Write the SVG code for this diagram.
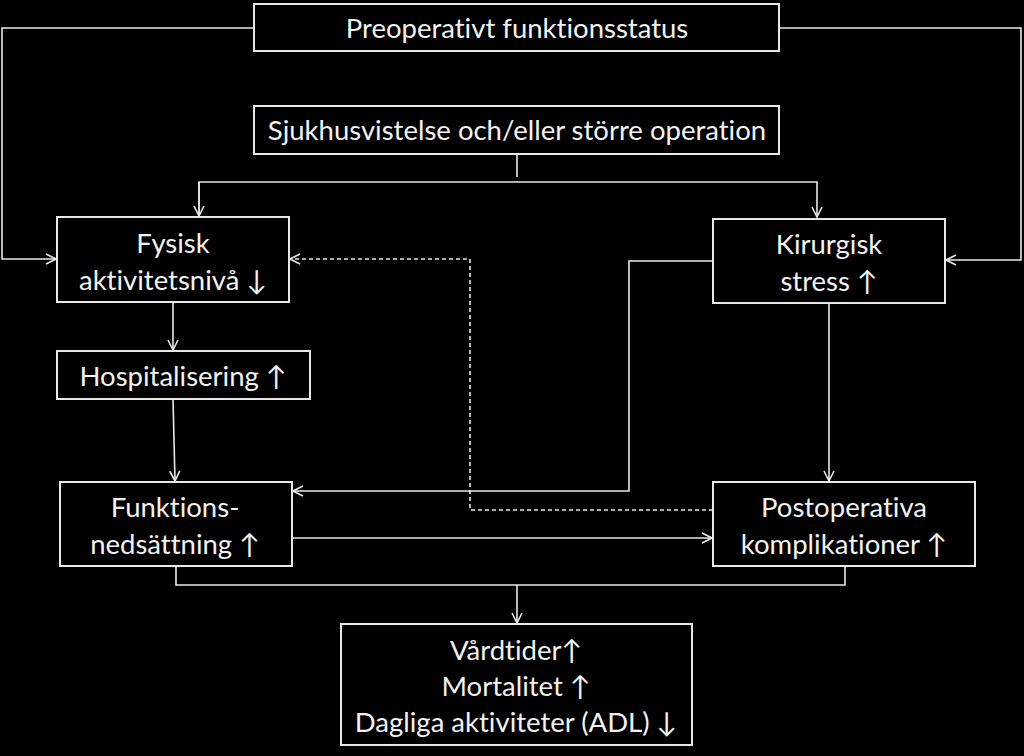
<svg xmlns="http://www.w3.org/2000/svg" width="1024" height="756" viewBox="0 0 1024 756">
<defs>
<style>
.box{fill:#000;stroke:#e8e8e8;stroke-width:2}
.t{font-family:Lato,"Open Sans",sans-serif;font-size:27.5px;fill:#f2f2f2;text-anchor:middle;font-variant-ligatures:none}
.c{fill:none;stroke:#e8e8e8;stroke-width:1.6}
.d{stroke-dasharray:4,3}
</style>
<marker id="ah" viewBox="0 0 12 12" refX="11" refY="6" markerWidth="12" markerHeight="12" markerUnits="userSpaceOnUse" orient="auto">
<path d="M1,1 L11,6 L1,11" fill="none" stroke="#e8e8e8" stroke-width="1.6"/>
</marker>
</defs>
<rect width="1024" height="756" fill="#000"/>
<g id="connectors">
<path class="c" d="M254,28 H2 V259 H56" marker-end="url(#ah)"/>
<path class="c" d="M779,28 H1021 V260 H946" marker-end="url(#ah)"/>
<path class="c" d="M517,154 V177"/>
<path class="c" d="M199,216 V182 H817 V217" marker-end="url(#ah)"/>
<path class="c" d="M199,182 V216" marker-end="url(#ah)"/>
<path class="c" d="M713,261 H629 V491 H293" marker-end="url(#ah)"/>
<path class="c d" d="M713,510 H470 V259 H290" marker-end="url(#ah)"/>
<path class="c" d="M173,302 V350" marker-end="url(#ah)"/>
<path class="c" d="M173,399 L175,481" marker-end="url(#ah)"/>
<path class="c" d="M292,538 H712" marker-end="url(#ah)"/>
<path class="c" d="M829,303 V481" marker-end="url(#ah)"/>
<path class="c" d="M176,566 V585 H845 V566"/>
<path class="c" d="M517,585 V623" marker-end="url(#ah)"/>
</g>
<g id="preop">
<rect class="box" x="254" y="4" width="525" height="47"/>
<text class="t" x="517" y="38">Preoperativt funktionsstatus</text>
</g>
<g id="sjukhus">
<rect class="box" x="254" y="106" width="525" height="48"/>
<text class="t" x="517" y="140">Sjukhusvistelse och/eller större operation</text>
</g>
<g id="fysisk">
<rect class="box" x="57" y="217" width="232" height="85"/>
<text class="t" x="173" y="253">Fysisk</text>
<text class="t" x="173" y="290">aktivitetsnivå ↓</text>
</g>
<g id="kirurgisk">
<rect class="box" x="713" y="219" width="232" height="84"/>
<text class="t" x="829" y="254">Kirurgisk</text>
<text class="t" x="829" y="291">stress ↑</text>
</g>
<g id="hosp">
<rect class="box" x="57" y="351" width="253" height="48"/>
<text class="t" x="183" y="386">Hospitalisering ↑</text>
</g>
<g id="funktion">
<rect class="box" x="60" y="482" width="232" height="84"/>
<text class="t" x="175" y="517">Funktions-</text>
<text class="t" x="175" y="554">nedsättning ↑</text>
</g>
<g id="postop">
<rect class="box" x="713" y="482" width="262" height="84"/>
<text class="t" x="844" y="517">Postoperativa</text>
<text class="t" x="844" y="554">komplikationer ↑</text>
</g>
<g id="utfall">
<rect class="box" x="341" y="624" width="351" height="121"/>
<text class="t" x="516" y="660">Vårdtider↑</text>
<text class="t" x="516" y="696">Mortalitet ↑</text>
<text class="t" x="516" y="732">Dagliga aktiviteter (ADL) ↓</text>
</g>
</svg>
